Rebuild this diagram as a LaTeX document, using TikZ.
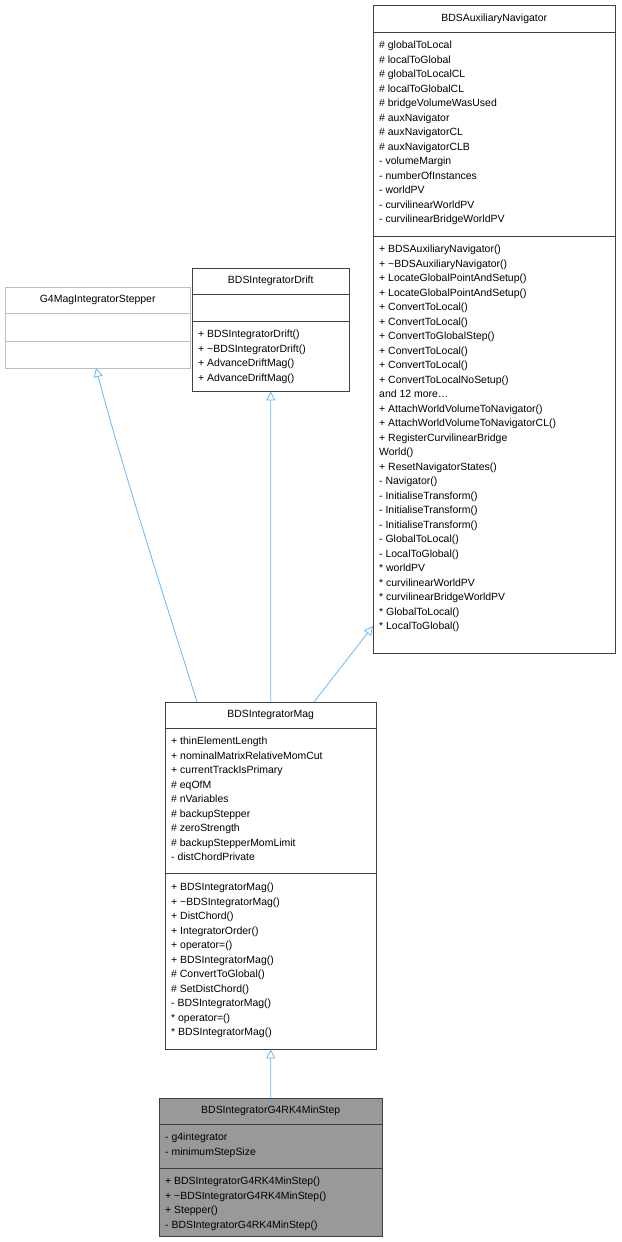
\documentclass[tikz,border=0pt]{standalone}
\usepackage{fontspec}
\setmainfont{Liberation Sans}
\usetikzlibrary{arrows.meta}
\definecolor{edgeblue}{HTML}{63B8FF}
\definecolor{darkbox}{HTML}{404040}
\definecolor{lightbox}{HTML}{BFBFBF}
\definecolor{fillgray}{HTML}{999999}

\tikzset{
  section/.style={draw=darkbox, anchor=north west, inner sep=0,
    minimum width=#1},
  titlebox/.style={font=\fontsize{10.5}{12}\selectfont},
  member/.style={anchor=base west, inner sep=0, font=\fontsize{10.5}{12}\selectfont},
  inherit/.style={draw=edgeblue, line width=0.8bp, -{Triangle[open, length=9bp, width=9bp]}}
}

% rows of members: x, first y, list
\newcommand\memberrows[3]{%
  \foreach \t [count=\i from 0] in {#3}
    \node[member] at (#1,{#2+3.8+\i*14.5}) {\t};}

\begin{document}
\begin{tikzpicture}[x=1bp, y=-1bp]
\useasboundingbox (0,0) rectangle (622,1242);

% G4MagIntegratorStepper
\node[section=185bp, minimum height=26bp, draw=lightbox, titlebox] (stepT) at (5,287) {G4MagIntegratorStepper};
\node[section=185bp, minimum height=28bp, draw=lightbox] (stepA) at (5,313) {};
\node[section=185bp, minimum height=27bp, draw=lightbox] (stepM) at (5,341) {};

% BDSIntegratorDrift
\node[section=157bp, minimum height=26bp, titlebox] (driftT) at (192,268) {BDSIntegratorDrift};
\node[section=157bp, minimum height=27bp] (driftA) at (192,294) {};
\node[section=157bp, minimum height=70bp] (driftM) at (192,321) {};
\memberrows{198}{334}{+ BDSIntegratorDrift(), + \textasciitilde BDSIntegratorDrift(),
  + AdvanceDriftMag(), + AdvanceDriftMag()}

% BDSAuxiliaryNavigator
\node[section=242bp, minimum height=27bp, titlebox] (auxT) at (373,5) {BDSAuxiliaryNavigator};
\node[section=242bp, minimum height=204bp] (auxA) at (373,32) {};
\node[section=242bp, minimum height=417bp] (auxM) at (373,236) {};
\memberrows{379}{45}{\# globalToLocal, \# localToGlobal, \# globalToLocalCL,
  \# localToGlobalCL, \# bridgeVolumeWasUsed, \# auxNavigator, \# auxNavigatorCL,
  \# auxNavigatorCLB, - volumeMargin, - numberOfInstances, - worldPV,
  - curvilinearWorldPV, - curvilinearBridgeWorldPV}
\memberrows{379}{249}{+ BDSAuxiliaryNavigator(), + \textasciitilde BDSAuxiliaryNavigator(),
  + LocateGlobalPointAndSetup(), + LocateGlobalPointAndSetup(), + ConvertToLocal(),
  + ConvertToLocal(), + ConvertToGlobalStep(), + ConvertToLocal(), + ConvertToLocal(),
  + ConvertToLocalNoSetup(), {and 12 more\ldots}, + AttachWorldVolumeToNavigator(),
  + AttachWorldVolumeToNavigatorCL(), + RegisterCurvilinearBridge, World(),
  + ResetNavigatorStates(), - Navigator(), - InitialiseTransform(),
  - InitialiseTransform(), - InitialiseTransform(), - GlobalToLocal(),
  - LocalToGlobal(), * worldPV, * curvilinearWorldPV, * curvilinearBridgeWorldPV,
  * GlobalToLocal(), * LocalToGlobal()}

% BDSIntegratorMag
\node[section=211bp, minimum height=26bp, titlebox] (magT) at (165,702) {BDSIntegratorMag};
\node[section=211bp, minimum height=145bp] (magA) at (165,728) {};
\node[section=211bp, minimum height=176bp] (magM) at (165,873) {};
\memberrows{171}{741}{+ thinElementLength, + nominalMatrixRelativeMomCut,
  + currentTrackIsPrimary, \# eqOfM, \# nVariables, \# backupStepper,
  \# zeroStrength, \# backupStepperMomLimit, - distChordPrivate}
\memberrows{171}{887}{+ BDSIntegratorMag(), + \textasciitilde BDSIntegratorMag(),
  + DistChord(), + IntegratorOrder(), + operator=(), + BDSIntegratorMag(),
  \# ConvertToGlobal(), \# SetDistChord(), - BDSIntegratorMag(), * operator=(),
  * BDSIntegratorMag()}

% BDSIntegratorG4RK4MinStep
\node[section=223bp, minimum height=26bp, fill=fillgray, titlebox] (rkT) at (159,1098) {BDSIntegratorG4RK4MinStep};
\node[section=223bp, minimum height=44bp, fill=fillgray] (rkA) at (159,1124) {};
\node[section=223bp, minimum height=68bp, fill=fillgray] (rkM) at (159,1168) {};
\memberrows{165}{1137}{- g4integrator, - minimumStepSize}
\memberrows{165}{1181}{+ BDSIntegratorG4RK4MinStep(), + \textasciitilde BDSIntegratorG4RK4MinStep(),
  + Stepper(), - BDSIntegratorG4RK4MinStep()}

% inheritance
\coordinate (magL) at (197,702);
\coordinate (magR) at (314,702);
\coordinate (auxIn) at (373,626);
\coordinate (stepIn) at (96,368);
\draw[inherit] (magL) .. controls (165,600) and (120,460) .. (stepIn);
\draw[inherit] (magT.north) -- (driftM.south);
\draw[inherit] (magR) -- (auxIn);
\draw[inherit] (rkT.north) -- (magM.south);
\end{tikzpicture}
\end{document}
